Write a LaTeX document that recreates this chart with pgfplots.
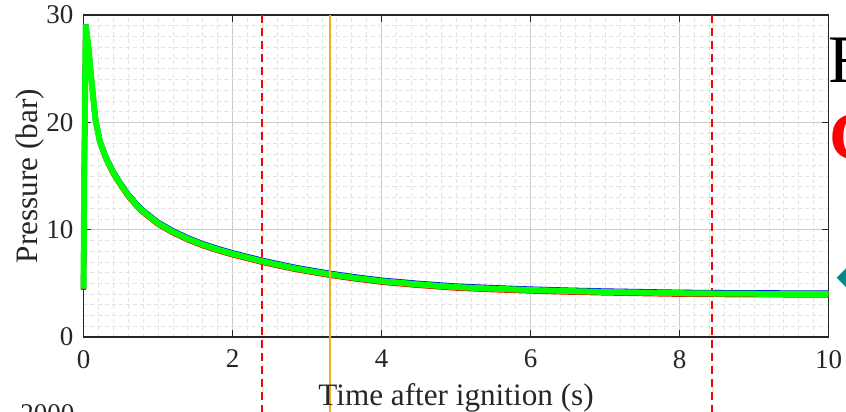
\documentclass[border=0pt]{standalone}
\usepackage{fontspec}
\setmainfont{Liberation Serif}
\newfontfamily\symfont{DejaVu Sans}
\usepackage{pgfplots}
\pgfplotsset{compat=1.18}
\definecolor{axgray}{RGB}{38,38,38}
\definecolor{mlorange}{RGB}{237,177,32}
\definecolor{teal2}{RGB}{0,139,139}
\begin{document}
\begin{tikzpicture}[x=1pt,y=1pt]
\begin{axis}[
at={(0,0)}, anchor=south west,
scale only axis,
width=372.5pt, height=161pt,
xmin=0, xmax=10, ymin=0, ymax=30,
xtick={0,2,...,10}, ytick={0,10,20,30},
minor x tick num=9, minor y tick num=9,
grid=both,
major grid style={color=black!20, line width=0.5pt},
minor grid style={color=black!11, line width=0.35pt, dash pattern=on 2pt off 1.5pt},
axis line style={color=axgray, line width=0.7pt},
tick style={color=axgray, line width=0.7pt},
major tick length=3.5pt, minor tick length=0pt,
tick align=inside, tick pos=both,
ticklabel style={font=\fontsize{13.5}{14}\selectfont, color=black!85},
/pgf/number format/assume math mode=true,
xticklabel style={yshift=-3pt},
yticklabel style={xshift=-1.5pt},
xlabel={Time after ignition (s)},
ylabel={Pressure (bar)},
label style={font=\fontsize{15.6}{16}\selectfont, color=black!85},
xlabel style={at={(axis description cs:0.5,-0.2112)}, anchor=base},
ylabel style={at={(axis description cs:-0.0624,0.5)}, anchor=base},
clip=false,
]
% vertical markers
\addplot[red, line width=1pt, dash pattern=on 4pt off 2.5pt] coordinates {(2.4,30) (2.4,-7.5)};
\addplot[red, line width=1pt, dash pattern=on 4pt off 2.5pt] coordinates {(8.43,30) (8.43,-7.5)};
% blue
\addplot[blue, line width=2.6pt] coordinates {
(0,4.5) (0.01,15) (0.03,29.1) (0.07,26.8) (0.1,24.5) (0.16,20.35) (0.22,18.3)
(0.3,16.8) (0.4,15.4) (0.5,14.3) (0.6,13.3) (0.7,12.5) (0.8,11.8) (1.0,10.7)
(1.2,9.9) (1.4,9.25) (1.6,8.7) (1.8,8.25) (2.0,7.85) (2.2,7.5) (2.4,7.15)
(2.6,6.85) (2.8,6.55) (3.0,6.3) (3.3,5.95) (3.6,5.65) (4.0,5.3) (4.5,5.0)
(5.0,4.75) (5.5,4.6) (6.0,4.47) (6.5,4.37) (7.0,4.29) (7.5,4.23) (8.0,4.17)
(8.5,4.14) (9.0,4.12) (9.5,4.11) (10,4.1)};
% red
\addplot[red, line width=2.6pt] coordinates {
(0,4.4) (0.01,15) (0.03,29.0) (0.07,26.6) (0.1,24.3) (0.16,20.15) (0.22,18.1)
(0.3,16.6) (0.4,15.2) (0.5,14.1) (0.6,13.1) (0.7,12.3) (0.8,11.6) (1.0,10.5)
(1.2,9.7) (1.4,9.05) (1.6,8.5) (1.8,8.05) (2.0,7.65) (2.2,7.3) (2.4,6.95)
(2.6,6.65) (2.8,6.35) (3.0,6.1) (3.3,5.75) (3.6,5.45) (4.0,5.1) (4.5,4.8)
(5.0,4.55) (5.5,4.4) (6.0,4.28) (6.5,4.18) (7.0,4.1) (7.5,4.04) (8.0,3.98)
(8.5,3.95) (9.0,3.93) (9.5,3.92) (10,3.91)};
% green
\addplot[green, line width=3pt] coordinates {
(0,4.5) (0.01,15) (0.03,29.1) (0.07,26.7) (0.1,24.4) (0.16,20.25) (0.22,18.2)
(0.3,16.7) (0.4,15.3) (0.5,14.2) (0.6,13.2) (0.7,12.4) (0.8,11.7) (1.0,10.6)
(1.2,9.8) (1.4,9.15) (1.6,8.6) (1.8,8.15) (2.0,7.75) (2.2,7.4) (2.4,7.05)
(2.6,6.75) (2.8,6.45) (3.0,6.2) (3.3,5.85) (3.6,5.55) (4.0,5.2) (4.5,4.9)
(5.0,4.65) (5.5,4.5) (6.0,4.38) (6.5,4.28) (7.0,4.2) (7.5,4.14) (8.0,4.08)
(8.5,4.05) (9.0,4.03) (9.5,4.02) (10,4.0)};
\addplot[mlorange, line width=1pt] coordinates {(3.31,30) (3.31,-7.5)};
\end{axis}
% fragments of neighbouring panels, cut by the page edge
\node[anchor=base west, inner sep=0, font=\fontsize{34}{34}\selectfont] at (372.5pt,127pt) {F};
\node[anchor=base west, inner sep=0, text=red, font=\bfseries\fontsize{34}{34}\selectfont] at (373pt,88.5pt) {C};
\node[anchor=center, inner sep=0, text=teal2, font=\symfont\fontsize{14}{14}\selectfont] at (382pt,29.5pt) {◆};
\node[anchor=north west, inner sep=0, font=\fontsize{13.5}{14}\selectfont, text=black!85] at (-31.75pt,-33.5pt) {2000};
\pgfresetboundingbox
\useasboundingbox (-41.75pt,-37.5pt) rectangle (381.25pt,168.5pt);
\end{tikzpicture}
\end{document}
